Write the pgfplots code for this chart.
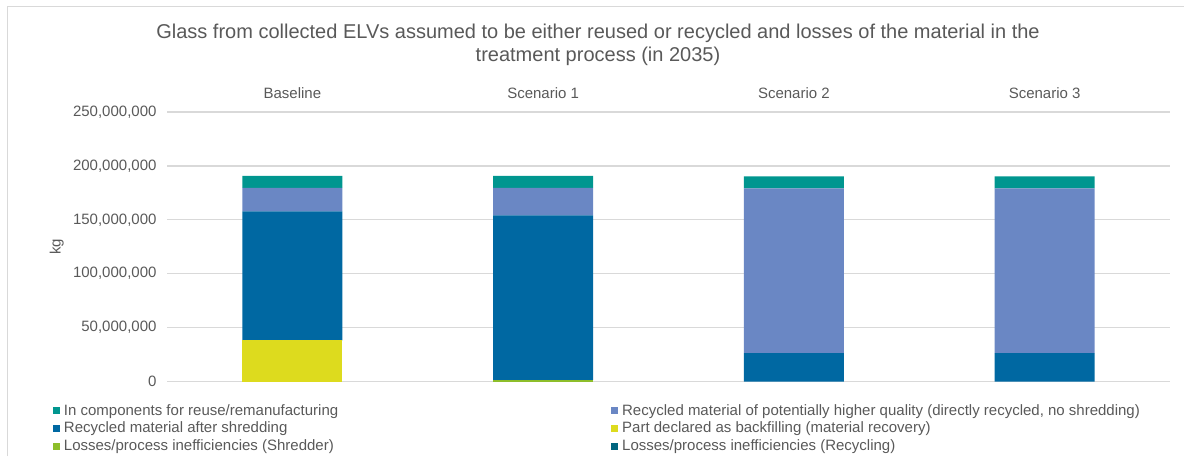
\documentclass[border=0pt]{standalone}
\usepackage{fontspec}
\setmainfont{Liberation Sans}
\usepackage{pgfplots}
\pgfplotsset{compat=1.18}

\definecolor{cteal}{HTML}{00968F}
\definecolor{clight}{HTML}{6A87C4}
\definecolor{cdark}{HTML}{0068A2}
\definecolor{cyellow}{HTML}{DDDB1E}
\definecolor{cgreen}{HTML}{8DBE2A}
\definecolor{cdteal}{HTML}{00657F}
\definecolor{ctext}{HTML}{595959}
\definecolor{cgrid}{HTML}{D9D9D9}

\begin{document}
\begin{tikzpicture}
\path[use as bounding box] (0,0) rectangle (1184pt,456pt);
\draw[cgrid, line width=1.2pt] (7.5pt,0) -- (7.5pt,449.5pt) -- (1184pt,449.5pt);
\node[text=ctext, font=\fontsize{20}{23}\selectfont, align=center] at (598pt,411pt)
  {Glass from collected ELVs assumed to be either reused or recycled and losses of the material in the\\treatment process (in 2035)};

\begin{axis}[
at={(167pt,74.5pt)}, anchor=south west,
scale only axis,
width=1003pt, height=269.5pt,
xmin=-0.5, xmax=3.5,
ymin=0, ymax=250000000,
ybar stacked,
bar width=100pt,
axis line style={draw=none},
major tick length=0pt,
xtick={0,1,2,3},
xticklabels={Baseline,Scenario 1,Scenario 2,Scenario 3},
xticklabel pos=upper,
xticklabel style={anchor=center, yshift=19pt},
ytick={0,50000000,100000000,150000000,200000000,250000000},
yticklabels={0,{50,000,000},{100,000,000},{150,000,000},{200,000,000},{250,000,000}},
yticklabel style={xshift=-7pt},
scaled y ticks=false,
ymajorgrids,
grid style={cgrid, line width=1.2pt},
tick label style={text=ctext, font=\fontsize{15}{17}\selectfont},
ylabel={kg},
ylabel style={at={(axis description cs:-0.11,0.5)}, anchor=center, text=ctext, font=\fontsize{15}{17}\selectfont},
legend columns=2,
legend cell align=left,
legend image code/.code={\fill[#1] (0pt,-3.5pt) rectangle (7pt,3.5pt);},
legend style={at={(axis description cs:-0.1166,-0.072)}, anchor=north west,
  draw=none, fill=none, text=ctext, font=\fontsize{15}{17}\selectfont,
  nodes={inner sep=1.2pt}, row sep=3pt,
  /tikz/every odd column/.append style={column sep=2.5pt},
  /tikz/every even column/.append style={column sep=272pt}},
]
% stacked bottom to top
\addplot[fill=cyellow, draw=none, forget plot] coordinates {(0,38100000) (1,0) (2,0) (3,0)};
\addplot[fill=cgreen, draw=none, forget plot] coordinates {(0,0) (1,1200000) (2,0) (3,0)};
\addplot[fill=cdark, draw=none, forget plot] coordinates {(0,119700000) (1,152900000) (2,26400000) (3,26400000)};
\addplot[fill=cdteal, draw=none, forget plot] coordinates {(0,0) (1,0) (2,0) (3,0)};
\addplot[fill=clight, draw=none, forget plot] coordinates {(0,21900000) (1,25600000) (2,152800000) (3,152800000)};
\addplot[fill=cteal, draw=none, forget plot] coordinates {(0,11100000) (1,11100000) (2,11100000) (3,11100000)};

\addlegendimage{fill=cteal, draw=none}
\addlegendentry{In components for reuse/remanufacturing}
\addlegendimage{fill=clight, draw=none}
\addlegendentry{Recycled material of potentially higher quality (directly recycled, no shredding)}
\addlegendimage{fill=cdark, draw=none}
\addlegendentry{Recycled material after shredding}
\addlegendimage{fill=cyellow, draw=none}
\addlegendentry{Part declared as backfilling (material recovery)}
\addlegendimage{fill=cgreen, draw=none}
\addlegendentry{Losses/process inefficiencies (Shredder)}
\addlegendimage{fill=cdteal, draw=none}
\addlegendentry{Losses/process inefficiencies (Recycling)}
\end{axis}
\end{tikzpicture}
\end{document}
